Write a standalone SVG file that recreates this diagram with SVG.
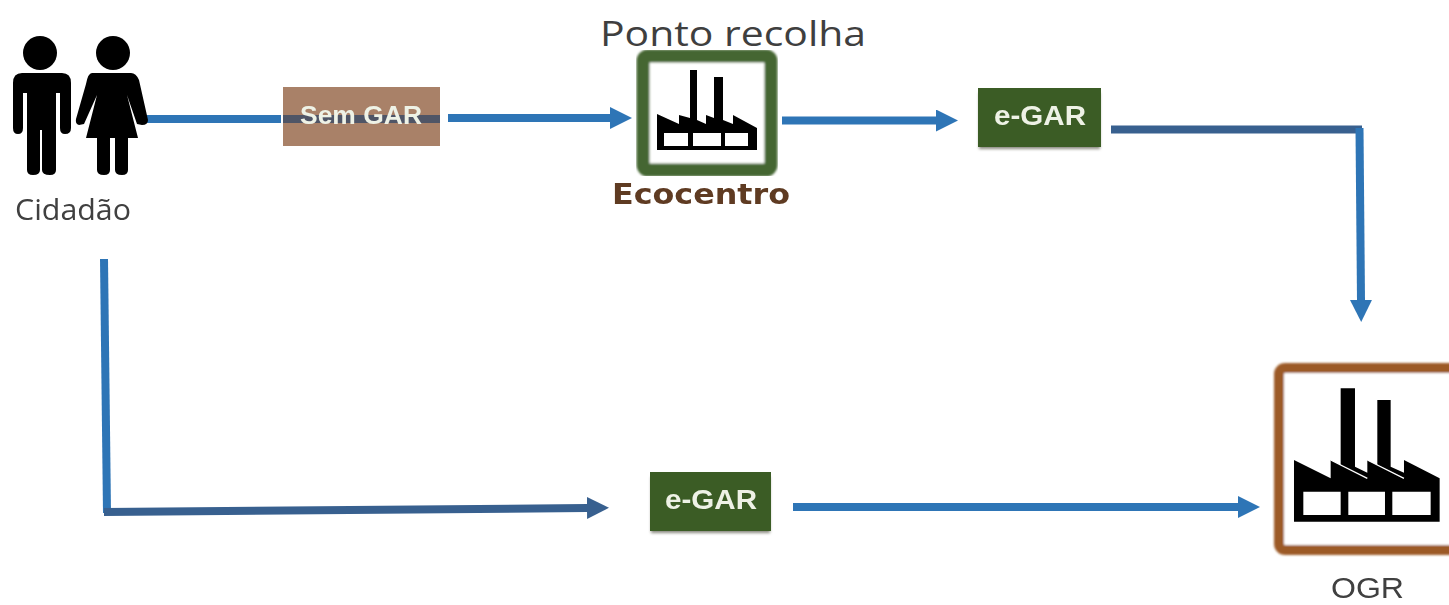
<svg xmlns="http://www.w3.org/2000/svg" width="1449" height="605" viewBox="0 0 1449 605">
  <style>
    .lbl { font-family: "Open Sans", "Liberation Sans", sans-serif; fill: #3f3f3f; }
    .tag { font-family: "Liberation Sans", Arial, sans-serif; font-weight: 700; font-size: 27px; fill: #eef2e6; text-anchor: middle; }
    .blue { fill: none; stroke: #2e75b6; stroke-width: 8; }
    .navy { fill: none; stroke: #38608f; stroke-width: 8; }
    .green { fill: #3b5c25; }
  </style>
  <defs>
    <filter id="soft" x="-5%" y="-5%" width="110%" height="110%"><feGaussianBlur stdDeviation="0.7"/></filter>
    <filter id="frame" x="-5%" y="-5%" width="110%" height="110%"><feGaussianBlur stdDeviation="1.2"/></filter>
    <filter id="edge" x="-10%" y="-10%" width="120%" height="120%"><feGaussianBlur stdDeviation="1.6"/></filter>
    <marker id="arrowBlue" markerUnits="userSpaceOnUse" markerWidth="24" markerHeight="24" refX="0" refY="11" orient="auto"><path d="M0 0L22 11L0 22Z" fill="#2e75b6"/></marker>
    <marker id="arrowNavy" markerUnits="userSpaceOnUse" markerWidth="24" markerHeight="24" refX="0" refY="11" orient="auto"><path d="M0 0L22 11L0 22Z" fill="#38608f"/></marker>
    <g id="factory">
      <path fill-rule="evenodd" d="M135 330L245 385V330L275 345V115H318V350L355 368V330L385 345V150H425V350L465 368V330L572 385V515H135Z M163 425V495H275V425Z M298 425V495H408V425Z M430 425V495H545V425Z" fill="#000"/>
      <path d="M245 330L355 385M355 330L465 385" stroke="#fff" stroke-width="4" fill="none"/>
    </g>
  </defs>

  <g id="connectors">
    <path class="blue" d="M147 119H281"/>
    <path class="blue" d="M448 118H610" marker-end="url(#arrowBlue)"/>
    <path class="blue" d="M782 120.500H936" marker-end="url(#arrowBlue)"/>
    <path class="navy" d="M1111 129.500H1362"/>
    <path class="blue" d="M1359.500 128L1361 300" marker-end="url(#arrowBlue)"/>
    <path class="blue" d="M104 259L107 513"/>
    <path class="navy" d="M104 512L587 508" marker-end="url(#arrowNavy)"/>
    <path class="blue" d="M793 507H1238" marker-end="url(#arrowBlue)"/>
  </g>

  <g id="cidadao">
    <g filter="url(#soft)">
      <circle cx="40" cy="53" r="17"/>
      <path d="M22 73H62Q71 73 71 83V128Q71 134 65 134Q60 134 60 128V93H56V170Q56 175 50 175Q42 175 42 170V130H40V170Q40 175 33 175Q27 175 27 170V93H23V128Q23 134 18 134Q13 134 13 128V83Q13 73 22 73Z"/>
      <circle cx="113" cy="53" r="17"/>
      <path d="M92 73H131Q136 73 139 80L148 120Q148 125 142 125L137 124L127 95L138 138H128V170Q128 175 122 175Q115 175 115 170V138H110V170Q110 175 104 175Q97 175 97 170V138H86L97 95L84 124L79 125Q75 124 76 119L86 84Q88 73 92 73Z"/>
    </g>
    <text class="lbl" x="15" y="220" font-size="30" textLength="116" lengthAdjust="spacingAndGlyphs" filter="url(#soft)">Cidadão</text>
  </g>

  <g id="sem-gar">
    <rect x="283" y="87" width="157" height="59" fill="#a98168"/>
    <rect x="283" y="115" width="157" height="8" fill="#4f5566" filter="url(#soft)"/>
    <text class="tag" x="361" y="124" style="font-size:25px" textLength="122" lengthAdjust="spacingAndGlyphs" filter="url(#soft)">Sem GAR</text>
  </g>

  <g id="ecocentro">
    <text class="lbl" x="600" y="46" font-size="35" textLength="266" lengthAdjust="spacingAndGlyphs">Ponto recolha</text>
    <rect x="643" y="56" width="128" height="114" rx="5" fill="#fff" stroke="#456633" stroke-width="13" filter="url(#frame)"/>
    <path fill-rule="evenodd" d="M657 114L679 124V115L690 118V70H697V120L706 124V115L714 118V77H723V120L733 124V115L757 128V150H657Z M664 133V146H688V133Z M693 133V146H721V133Z M725 133V146H748V133Z" filter="url(#soft)"/>
    <text x="612" y="204" font-family="'DejaVu Sans', 'Liberation Sans', sans-serif" font-weight="700" font-size="28" fill="#5e3a22" textLength="178" lengthAdjust="spacingAndGlyphs" filter="url(#soft)">Ecocentro</text>
  </g>

  <g id="egar-top">
    <rect x="979" y="93" width="121" height="56" fill="#8a8a80" filter="url(#edge)"/>
    <rect class="green" x="978" y="88" width="123" height="59"/>
    <text class="tag" x="1040" y="125" textLength="92" lengthAdjust="spacingAndGlyphs" filter="url(#soft)">e-GAR</text>
  </g>

  <g id="egar-bottom">
    <rect x="651" y="477" width="119" height="56" fill="#8a8a80" filter="url(#edge)"/>
    <rect class="green" x="650" y="472" width="121" height="59"/>
    <text class="tag" x="711" y="509" textLength="92" lengthAdjust="spacingAndGlyphs" filter="url(#soft)">e-GAR</text>
  </g>

  <g id="ogr">
    <rect x="1279" y="368" width="180" height="182" rx="6" fill="#fff" stroke="#9c5a28" stroke-width="10" filter="url(#frame)"/>
    <use href="#factory" transform="translate(1249 350) scale(0.3333)" filter="url(#soft)"/>
    <text x="1331" y="598" font-family="'Liberation Sans', Arial, sans-serif" font-size="30" fill="#3f3f3f" textLength="73" lengthAdjust="spacingAndGlyphs" filter="url(#soft)">OGR</text>
  </g>
</svg>
